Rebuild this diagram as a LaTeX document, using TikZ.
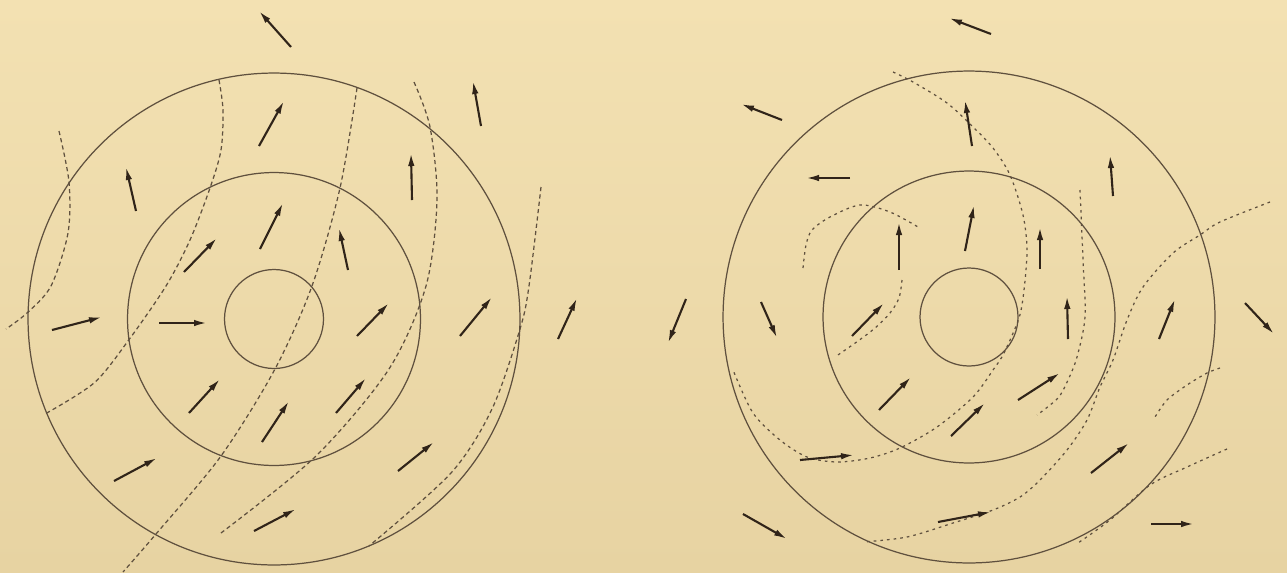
\documentclass[tikz,border=0pt]{standalone}
\usepackage{tikz}
\usetikzlibrary{arrows.meta}
\definecolor{PaperLight}{RGB}{243,225,178}
\definecolor{PaperDark}{RGB}{231,211,162}
\definecolor{RingInk}{RGB}{95,80,62}
\definecolor{ArrowInk}{RGB}{48,36,25}
\definecolor{TraceInk}{RGB}{95,80,62}

\begin{document}
\begin{tikzpicture}[x=0.02cm,y=-0.02cm,>={Latex[length=2.6mm,width=1.3mm]},
    ring/.style={RingInk,line width=0.7pt},
    field/.style={->,ArrowInk,line width=1.2pt},
    traceL/.style={TraceInk,line width=0.7pt,dash pattern=on 2.4pt off 1.8pt},
    traceR/.style={TraceInk,line width=0.7pt,dash pattern=on 1.5pt off 2.3pt}]
  % paper
  \shade[top color=PaperLight,bottom color=PaperDark] (0,0) rectangle (1287,572);
  \useasboundingbox (0,0) rectangle (1287,572);
  \coordinate (L) at (274,319);
  \coordinate (R) at (969,317);

  % left disc
  \draw[ring] (L) circle[radius=4.92cm];
  \draw[ring] (L) circle[radius=2.93cm];
  \draw[ring] (L) circle[radius=0.99cm];
  \draw[traceL] plot[smooth] coordinates {(59,131) (69,182) (68,233) (51,286) (27,313) (6,329)};
  \draw[traceL] plot[smooth] coordinates {(219,80) (223,110) (221,150) (210,188) (190,240) (166,286) (128,341) (94,383) (45,414)};
  \draw[traceL] plot[smooth] coordinates {(357,88) (340,188) (312,286) (275,369) (221,456) (156,534) (123,572)};
  \draw[traceL] plot[smooth] coordinates {(414,82) (430,127) (437,200) (426,286) (389,369) (316,456) (221,533)};
  \draw[traceL] plot[smooth] coordinates {(541,187) (529,286) (520,329) (492,409) (451,473) (369,546)};
  \draw[field] (291,47)--(259,11);
  \draw[field] (259,146)--(284,101);
  \draw[field] (481,126)--(473,81);
  \draw[field] (136,211)--(126,167);
  \draw[field] (412,200)--(411,153);
  \draw[field] (260,249)--(283,203);
  \draw[field] (184,272)--(217,238);
  \draw[field] (348,270)--(339,228);
  \draw[field] (52,330)--(102,317);
  \draw[field] (159,323)--(207,323);
  \draw[field] (357,336)--(389,303);
  \draw[field] (460,336)--(492,297);
  \draw[field] (558,339)--(577,298);
  \draw[field] (189,413)--(220,379);
  \draw[field] (262,442)--(289,401);
  \draw[field] (336,413)--(366,378);
  \draw[field] (114,481)--(157,458);
  \draw[field] (398,471)--(434,442);
  \draw[field] (254,531)--(296,509);

  % right disc
  \draw[ring] (R) circle[radius=4.92cm];
  \draw[ring] (R) circle[radius=2.92cm];
  \draw[ring] (R) circle[radius=0.98cm];
  \draw[traceR] plot[smooth] coordinates {(893,72) (913,82) (947,103) (973,127) (993,148) (1010,175) (1023,215) (1027,250) (1024,290) (1019,318) (1004,353) (993,370) (973,397) (937,427) (900,448) (870,458) (837,462) (807,457) (780,440) (753,413) (733,370)};
  \draw[traceR] plot[smooth] coordinates {(803,268) (806,245) (812,230) (830,217) (860,205) (890,212) (918,227)};
  \draw[traceR] plot[smooth] coordinates {(902,280) (899,298) (890,313) (875,328) (858,341) (835,357)};
  \draw[traceR] plot[smooth] coordinates {(1080,190) (1083,260) (1085,317) (1077,357) (1068,380) (1058,398) (1037,415)};
  \draw[traceR] plot[smooth] coordinates {(1270,202) (1220,222) (1200,235) (1173,253) (1143,287) (1127,320) (1113,360) (1100,387) (1087,420) (1067,450) (1040,480) (1020,497) (993,510) (953,523) (907,537) (863,542)};
  \draw[traceR] plot[smooth] coordinates {(1220,368) (1207,373) (1187,385) (1167,400) (1155,417)};
  \draw[traceR] plot[smooth] coordinates {(1227,449) (1187,467) (1150,485) (1110,520) (1078,543)};
  \draw[field] (991,34)--(949,18);
  \draw[field] (782,120)--(741,104);
  \draw[field] (972,146)--(965,100);
  \draw[field] (850,178)--(806,178);
  \draw[field] (1113,196)--(1110,155);
  \draw[field] (965,251)--(974,205);
  \draw[field] (899,270)--(899,222);
  \draw[field] (1040,269)--(1040,227);
  \draw[field] (686,299)--(668,343);
  \draw[field] (761,302)--(777,338);
  \draw[field] (852,336)--(884,303);
  \draw[field] (1068,339)--(1067,296);
  \draw[field] (1159,339)--(1175,299);
  \draw[field] (1245,303)--(1274,334);
  \draw[field] (879,410)--(911,377);
  \draw[field] (1018,400)--(1060,373);
  \draw[field] (951,436)--(985,403);
  \draw[field] (800,460)--(854,455);
  \draw[field] (1091,473)--(1129,443);
  \draw[field] (938,522)--(991,512);
  \draw[field] (743,514)--(787,539);
  \draw[field] (1151,524)--(1194,524);
\end{tikzpicture}
\end{document}
